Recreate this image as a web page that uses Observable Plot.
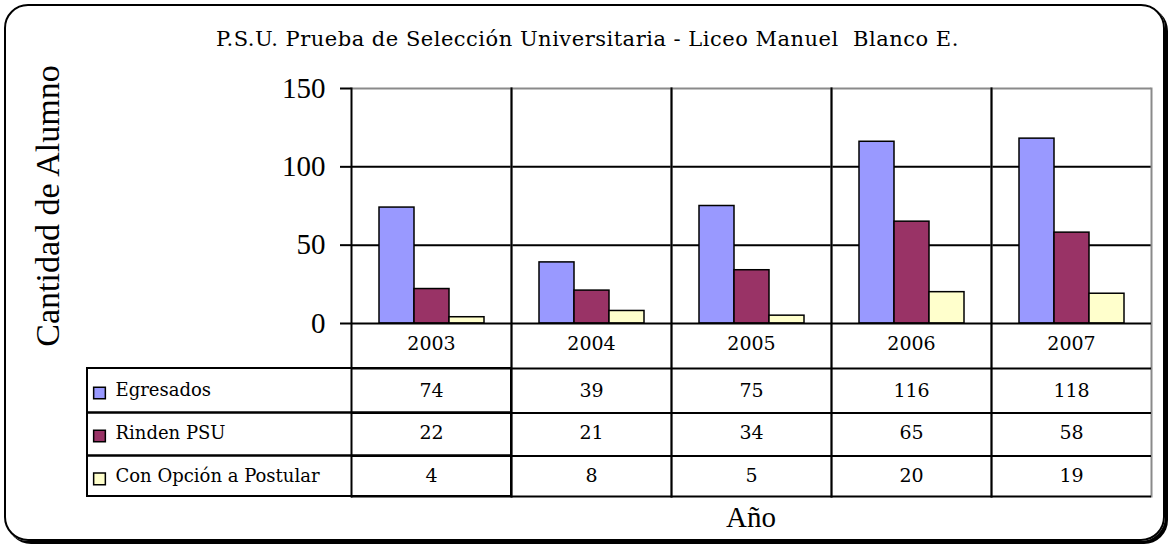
<!DOCTYPE html>
<html>
<head>
<meta charset="utf-8">
<script src="https://cdn.jsdelivr.net/npm/d3@7"></script>
<script src="https://cdn.jsdelivr.net/npm/@observablehq/plot@0.6"></script>
<style>
  html, body { margin:0; padding:0; background:#fff; }
  #wrap { position:relative; width:1168px; height:546px; overflow:hidden; }
  #box { position:absolute; left:4px; top:4px; width:1161px; height:537px; box-sizing:border-box; border:2px solid #000; border-radius:24px; box-shadow:3px 3px 0 0 #000; }
  #chart { position:absolute; left:0; top:0; }
  #chart svg { background: transparent; }
  .lbl { position:absolute; white-space:pre; color:#000; }
  #title { left:0; width:1175px; top:29px; text-align:center; font-family:"DejaVu Serif"; font-size:21px; line-height:21px; letter-spacing:0.5px; }
  #ylab { left:48px; top:206px; transform: translate(-50%,-50%) rotate(-90deg); font-family:"Liberation Serif"; font-size:34px; line-height:34px; }
  #xlab { left:751px; top:517px; transform: translate(-50%,-50%); font-family:"Liberation Serif"; font-size:29px; line-height:29px; }
</style>
</head>
<body>
<div id="wrap">
  <div id="box"></div>
  <div id="chart"></div>
  <div id="title" class="lbl"></div>
  <div id="ylab" class="lbl"></div>
  <div id="xlab" class="lbl"></div>
</div>
<script>
// ---- data ----
const chartTitle = "P.S.U. Prueba de Selección Universitaria - Liceo Manuel  Blanco E.";
const yTitle = "Cantidad de Alumno";
const xTitle = "Año";
const years = ["2003", "2004", "2005", "2006", "2007"];
const series = ["Egresados", "Rinden PSU", "Con Opción a Postular"];
const egresados = [74, 39, 75, 116, 118];
const rindenPSU = [22, 21, 34, 65, 58];
const conOpcion = [4, 8, 5, 20, 19];
const seriesColors = ["#9999FF", "#993366", "#FFFFCC"];
const yTicks = [0, 50, 100, 150];

// ---- layout ----
const W = 1168, H = 546;
const M = {top: 88, right: 15, bottom: 223, left: 349};
const plotH = H - M.top - M.bottom;
const rowEdges = [45, 89.5, 132.5, 173];     // table lines below the baseline
const textDy = [20, 67, 109.5, 152.5];      // header + 3 rows
const swatchDy = [69.5, 112.5, 155.3];
const labelCol = 264;                       // width of the legend column

document.getElementById("title").textContent = chartTitle;
document.getElementById("ylab").textContent = yTitle;
document.getElementById("xlab").textContent = xTitle;

const values = [egresados, rindenPSU, conOpcion];
const data = years.flatMap((yr, i) => series.map((s, j) => ({year: yr, series: s, value: values[j][i]})));
const yMax = d3.max(yTicks);

const marks = [
  Plot.ruleY(yTicks.filter(t => t > 0 && t < yMax), {stroke: "#000", strokeWidth: 2}),
  Plot.ruleY([yMax], {stroke: "#8a8a8a", strokeWidth: 2}),
  Plot.frame({anchor: "right", stroke: "#8a8a8a", strokeWidth: 2, insetBottom: -rowEdges[3]}),
  Plot.frame({anchor: "left", stroke: "#000", strokeWidth: 2, insetBottom: -rowEdges[3]}),
  Plot.barY(data, {fx: "year", x: "series", y: "value", fill: "series", stroke: "#000", strokeWidth: 1.5}),
  Plot.ruleY([0], {stroke: "#000", strokeWidth: 2}),
  ...rowEdges.map(off => Plot.ruleY([0], {dy: off, stroke: "#000", strokeWidth: 2})),
  // legend column cells (first facet, extended to the left)
  ...series.map((s, j) => Plot.rect([years[0]], {
    fx: d => d, insetLeft: -labelCol, insetTop: plotH + rowEdges[j], insetBottom: -rowEdges[j + 1],
    fill: "none", stroke: "#000", strokeWidth: 2
  })),
  Plot.axisY(yTicks, {tickSize: 11, tickPadding: 15, fontSize: 29, fontFamily: "Liberation Serif", strokeWidth: 2, label: null, tickFormat: d => String(d)}),
  // header row with the years
  Plot.text(years, {fx: d => d, text: d => d, frameAnchor: "bottom", lineAnchor: "middle", dy: textDy[0], fontSize: 19, fontFamily: "DejaVu Serif"}),
  // values rows
  ...series.map((s, j) => Plot.text(data.filter(d => d.series === s), {
    fx: "year", text: d => String(d.value), frameAnchor: "bottom", lineAnchor: "middle", dy: textDy[j + 1], fontSize: 19, fontFamily: "DejaVu Serif"
  })),
  // legend labels
  ...series.map((s, j) => Plot.text([s], {
    fx: () => years[0], text: d => d, frameAnchor: "bottom-left", textAnchor: "start", lineAnchor: "middle",
    dx: -236, dy: textDy[j + 1], fontSize: 18, fontFamily: "DejaVu Serif"
  })),
  ...series.map((s, j) => Plot.dot([s], {
    fx: () => years[0], frameAnchor: "bottom-left", dx: -252, dy: swatchDy[j],
    symbol: "square", r: 6.6, fill: seriesColors[j], stroke: "#000", strokeWidth: 1.5
  }))
];

const chart = Plot.plot({
  width: W, height: H,
  marginTop: M.top, marginRight: M.right, marginBottom: M.bottom, marginLeft: M.left,
  style: {background: "transparent", fontFamily: "Liberation Serif", fontSize: "28px", color: "#000"},
  fx: {domain: years, padding: 0, axis: null},
  x: {domain: series, paddingInner: 0, paddingOuter: 0.74, axis: null},
  y: {domain: [0, yMax], axis: null},
  color: {domain: series, range: seriesColors},
  marks
});
document.getElementById("chart").appendChild(chart);
</script>
</body>
</html>
